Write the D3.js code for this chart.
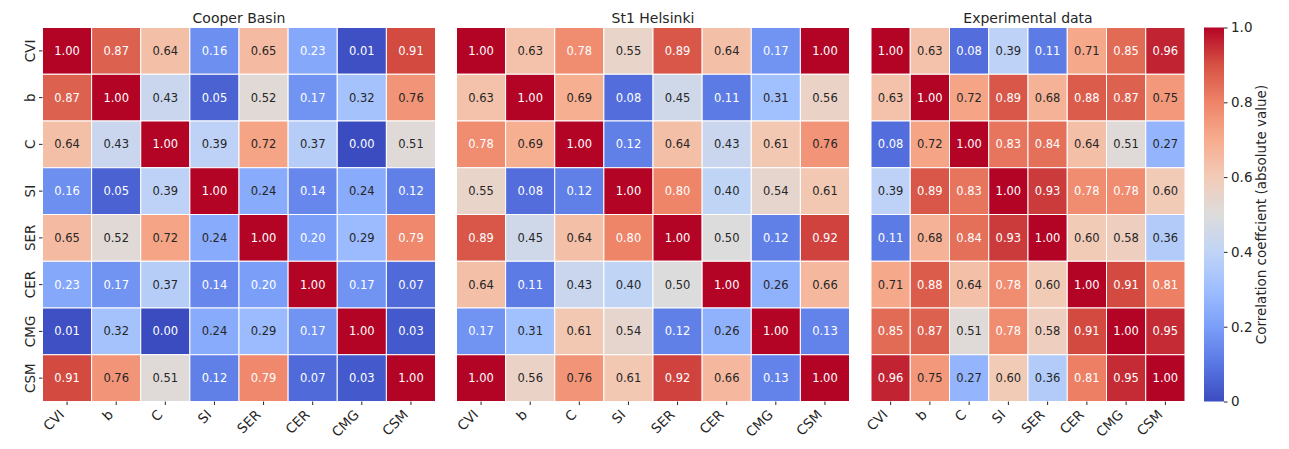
<!DOCTYPE html>
<html>
<head>
<meta charset="utf-8">
<script src="https://cdn.jsdelivr.net/npm/d3@7"></script>
<style>
  html, body { margin: 0; padding: 0; background: #fff; }
  svg { display: block; font-family: "DejaVu Sans", sans-serif; }
</style>
</head>
<body>
<svg id="chart" width="1289" height="449"></svg>
<script>
const variables = ["CVI", "b", "C", "SI", "SER", "CER", "CMG", "CSM"];
const titles = ["Cooper Basin", "St1 Helsinki", "Experimental data"];

const cooperBasin = [
  [1.00, 0.87, 0.64, 0.16, 0.65, 0.23, 0.01, 0.91],
  [0.87, 1.00, 0.43, 0.05, 0.52, 0.17, 0.32, 0.76],
  [0.64, 0.43, 1.00, 0.39, 0.72, 0.37, 0.00, 0.51],
  [0.16, 0.05, 0.39, 1.00, 0.24, 0.14, 0.24, 0.12],
  [0.65, 0.52, 0.72, 0.24, 1.00, 0.20, 0.29, 0.79],
  [0.23, 0.17, 0.37, 0.14, 0.20, 1.00, 0.17, 0.07],
  [0.01, 0.32, 0.00, 0.24, 0.29, 0.17, 1.00, 0.03],
  [0.91, 0.76, 0.51, 0.12, 0.79, 0.07, 0.03, 1.00]
];
const st1Helsinki = [
  [1.00, 0.63, 0.78, 0.55, 0.89, 0.64, 0.17, 1.00],
  [0.63, 1.00, 0.69, 0.08, 0.45, 0.11, 0.31, 0.56],
  [0.78, 0.69, 1.00, 0.12, 0.64, 0.43, 0.61, 0.76],
  [0.55, 0.08, 0.12, 1.00, 0.80, 0.40, 0.54, 0.61],
  [0.89, 0.45, 0.64, 0.80, 1.00, 0.50, 0.12, 0.92],
  [0.64, 0.11, 0.43, 0.40, 0.50, 1.00, 0.26, 0.66],
  [0.17, 0.31, 0.61, 0.54, 0.12, 0.26, 1.00, 0.13],
  [1.00, 0.56, 0.76, 0.61, 0.92, 0.66, 0.13, 1.00]
];
const experimentalData = [
  [1.00, 0.63, 0.08, 0.39, 0.11, 0.71, 0.85, 0.96],
  [0.63, 1.00, 0.72, 0.89, 0.68, 0.88, 0.87, 0.75],
  [0.08, 0.72, 1.00, 0.83, 0.84, 0.64, 0.51, 0.27],
  [0.39, 0.89, 0.83, 1.00, 0.93, 0.78, 0.78, 0.60],
  [0.11, 0.68, 0.84, 0.93, 1.00, 0.60, 0.58, 0.36],
  [0.71, 0.88, 0.64, 0.78, 0.60, 1.00, 0.91, 0.81],
  [0.85, 0.87, 0.51, 0.78, 0.58, 0.91, 1.00, 0.95],
  [0.96, 0.75, 0.27, 0.60, 0.36, 0.81, 0.95, 1.00]
];
const matrices = [cooperBasin, st1Helsinki, experimentalData];

const cbarTicks = [0, 0.2, 0.4, 0.6, 0.8, 1.0];
const cbarTickLabels = ["0", "0.2", "0.4", "0.6", "0.8", "1.0"];
const cbarLabel = "Correlation coeffcient (absolute value)";

// coolwarm colormap anchors
const coolwarmStops = ["#3b4cc0", "#5977e3", "#7b9ff9", "#9ebeff", "#c0d4f5", "#dddcdc",
                       "#f2cbb7", "#f7ac8e", "#ee8468", "#d65244", "#b40426"];
const color = d3.scaleLinear()
  .domain(d3.range(coolwarmStops.length).map(i => i / (coolwarmStops.length - 1)))
  .range(coolwarmStops)
  .interpolate(d3.interpolateRgb)
  .clamp(true);

function relLum(c) {
  const rgb = d3.rgb(c);
  const lin = v => { v /= 255; return v <= 0.03928 ? v / 12.92 : Math.pow((v + 0.055) / 1.055, 2.4); };
  return 0.2126 * lin(rgb.r) + 0.7152 * lin(rgb.g) + 0.0722 * lin(rgb.b);
}

const svg = d3.select("#chart");
const plotTop = 27.5, plotBottom = 401.5;
const panels = [
  { x0: 42.5, x1: 435.5 },
  { x0: 456.5, x1: 849.5 },
  { x0: 871, x1: 1185 }
];
const tickColor = "#262626";

panels.forEach((p, k) => {
  const x = d3.scaleBand().domain(variables).range([p.x0, p.x1]).padding(0);
  const y = d3.scaleBand().domain(variables).range([plotTop, plotBottom]).padding(0);
  const g = svg.append("g");
  const data = [];
  matrices[k].forEach((row, i) => row.forEach((v, j) => data.push({ r: variables[i], c: variables[j], v })));

  g.selectAll("rect").data(data).join("rect")
    .attr("x", d => x(d.c)).attr("y", d => y(d.r))
    .attr("width", x.bandwidth()).attr("height", y.bandwidth())
    .attr("fill", d => color(d.v))
    .attr("stroke", "#fff").attr("stroke-width", 1);

  g.selectAll("text.annot").data(data).join("text")
    .attr("class", "annot")
    .attr("x", d => x(d.c) + x.bandwidth() / 2)
    .attr("y", d => y(d.r) + y.bandwidth() / 2)
    .attr("text-anchor", "middle").attr("dominant-baseline", "central")
    .attr("font-size", 11.5)
    .attr("fill", d => relLum(color(d.v)) > 0.408 ? tickColor : "#ffffff")
    .text(d => d.v.toFixed(2));

  // x axis
  const xa = svg.append("g").attr("transform", `translate(0,${plotBottom})`)
    .call(d3.axisBottom(x).tickSize(3.5).tickSizeOuter(0).tickPadding(0));
  xa.select(".domain").remove();
  xa.selectAll(".tick line").attr("stroke", tickColor).attr("stroke-width", 1);
  xa.selectAll(".tick text")
    .attr("font-family", "DejaVu Sans").attr("font-size", 13.5).attr("fill", tickColor)
    .attr("text-anchor", "end").attr("dy", null).attr("y", null)
    .attr("transform", "translate(-2,14) rotate(-45)");

  if (k === 0) {
    const ya = svg.append("g").attr("transform", `translate(${p.x0},0)`)
      .call(d3.axisLeft(y).tickSize(3.5).tickSizeOuter(0).tickPadding(0));
    ya.select(".domain").remove();
    ya.selectAll(".tick line").attr("stroke", tickColor).attr("stroke-width", 1);
    ya.selectAll(".tick text")
      .attr("font-family", "DejaVu Sans").attr("font-size", 13.5).attr("fill", tickColor)
      .attr("text-anchor", "middle").attr("dy", null).attr("x", null)
      .attr("transform", "translate(-7.5,0) rotate(-90)");
  }

  svg.append("text")
    .attr("x", (p.x0 + p.x1) / 2).attr("y", 22.5)
    .attr("text-anchor", "middle").attr("font-size", 14).attr("fill", tickColor)
    .text(titles[k]);
});

// colorbar
const cb = { x0: 1204, x1: 1224 };
const defs = svg.append("defs");
const grad = defs.append("linearGradient").attr("id", "cbgrad")
  .attr("x1", 0).attr("y1", 1).attr("x2", 0).attr("y2", 0);
d3.range(0, 1.0001, 0.02).forEach(t => grad.append("stop").attr("offset", t).attr("stop-color", color(t)));
svg.append("rect").attr("x", cb.x0).attr("y", plotTop).attr("width", cb.x1 - cb.x0).attr("height", plotBottom - plotTop)
  .attr("fill", "url(#cbgrad)");
const cy = d3.scaleLinear().domain([0, 1]).range([plotBottom, plotTop]);
const ca = svg.append("g").attr("transform", `translate(${cb.x1},0)`)
  .call(d3.axisRight(cy).tickValues(cbarTicks).tickFormat((d, i) => cbarTickLabels[i]).tickSize(3.5).tickPadding(3.5).tickSizeOuter(0));
ca.select(".domain").remove();
ca.selectAll(".tick line").attr("stroke", tickColor);
ca.selectAll(".tick text").attr("font-family", "DejaVu Sans").attr("font-size", 13.5).attr("fill", tickColor);

svg.append("text")
  .attr("transform", `translate(1266,${(plotTop + plotBottom) / 2}) rotate(-90)`)
  .attr("text-anchor", "middle").attr("font-size", 13.5).attr("fill", tickColor)
  .text(cbarLabel);
</script>
</body>
</html>
